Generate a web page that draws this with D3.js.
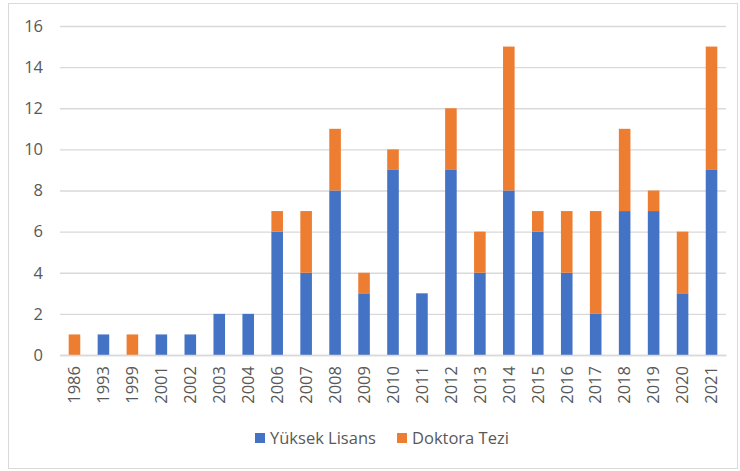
<!DOCTYPE html>
<html>
<head>
<meta charset="utf-8">
<script src="https://cdn.jsdelivr.net/npm/d3@7"></script>
<style>
  body { margin: 0; background: #fff; }
  svg text { font-family: "Open Sans", "Noto Sans", sans-serif; fill: #595959; }
</style>
</head>
<body>
<script>
const years = ["1986", "1993", "1999", "2001", "2002", "2003", "2004", "2006", "2007", "2008", "2009",
    "2010", "2011", "2012", "2013", "2014", "2015", "2016", "2017", "2018", "2019", "2020", "2021"];
const yuksekLisans = [0, 1, 0, 1, 1, 2, 2, 6, 4, 8, 3, 9, 3, 9, 4, 8, 6, 4, 2, 7, 7, 3, 9];
const doktoraTezi = [1, 0, 1, 0, 0, 0, 0, 1, 3, 3, 1, 1, 0, 3, 2, 7, 1, 3, 5, 4, 1, 3, 6];
const seriesNames = ["Yüksek Lisans", "Doktora Tezi"];
const yTicks = [0, 2, 4, 6, 8, 10, 12, 14, 16];

const width = 740, height = 471;
let margin = {left: 60, right: 14, top: 26, bottom: 116};
let colors = ["#4472C4", "#ED7D31"];

let rows = years.map((y, i) => ({year: y, a: yuksekLisans[i], b: doktoraTezi[i]}));
let stacked = d3.stack().keys(["a", "b"])(rows);

let svg = d3.select("body").append("svg")
    .attr("width", width)
    .attr("height", height);

// chart frame
svg.append("rect")
    .attr("x", 8.5).attr("y", 3.5)
    .attr("width", 729).attr("height", 465)
    .attr("fill", "#fff")
    .attr("stroke", "#d9d9d9")
    .attr("stroke-width", 1);

let xScale = d3.scaleBand()
    .domain(years)
    .range([margin.left, width - margin.right])
    .paddingInner(0.6)
    .paddingOuter(0.3);

let yScale = d3.scaleLinear()
    .domain([0, 16])
    .range([height - margin.bottom, margin.top]);

// gridlines + y labels
let yAxis = d3.axisLeft(yScale)
    .tickValues(yTicks)
    .tickSize(-(width - margin.left - margin.right))
    .tickPadding(17);
svg.append("g")
    .attr("transform", "translate(" + margin.left + ",0)")
    .call(yAxis)
    .call(g => g.select(".domain").remove())
    .call(g => g.selectAll("line").attr("stroke", "#d9d9d9").attr("stroke-width", 1.3))
    .call(g => g.selectAll("text").attr("font-size", 16.5).attr("fill", "#595959"));

// bars
svg.append("g")
    .selectAll("g")
    .data(stacked)
    .join("g")
        .attr("fill", (d, i) => colors[i])
    .selectAll("rect")
    .data(d => d)
    .join("rect")
        .attr("x", d => xScale(d.data.year))
        .attr("y", d => yScale(d[1]))
        .attr("width", xScale.bandwidth())
        .attr("height", d => yScale(d[0]) - yScale(d[1]));

// x axis
let xAxis = d3.axisBottom(xScale).tickSize(0).tickPadding(7);
svg.append("g")
    .attr("transform", "translate(0," + (height - margin.bottom) + ")")
    .call(xAxis)
    .call(g => g.select(".domain").attr("stroke", "#d9d9d9").attr("stroke-width", 1.3))
    .call(g => g.selectAll("text")
        .attr("font-size", 16.5)
        .attr("fill", "#595959")
        .attr("transform", "rotate(-90)")
        .attr("text-anchor", "end")
        .attr("x", -11)
        .attr("y", 0)
        .attr("dy", "0.35em"));

// legend
let legend = svg.append("g");
let legendPos = [255, 397];
seriesNames.forEach((name, i) => {
    legend.append("rect")
        .attr("x", legendPos[i]).attr("y", 433)
        .attr("width", 10).attr("height", 10)
        .attr("fill", colors[i]);
    legend.append("text")
        .attr("x", legendPos[i] + 15).attr("y", 438)
        .attr("dy", "0.35em")
        .attr("font-size", 16.5)
        .text(name);
});
</script>
</body>
</html>
